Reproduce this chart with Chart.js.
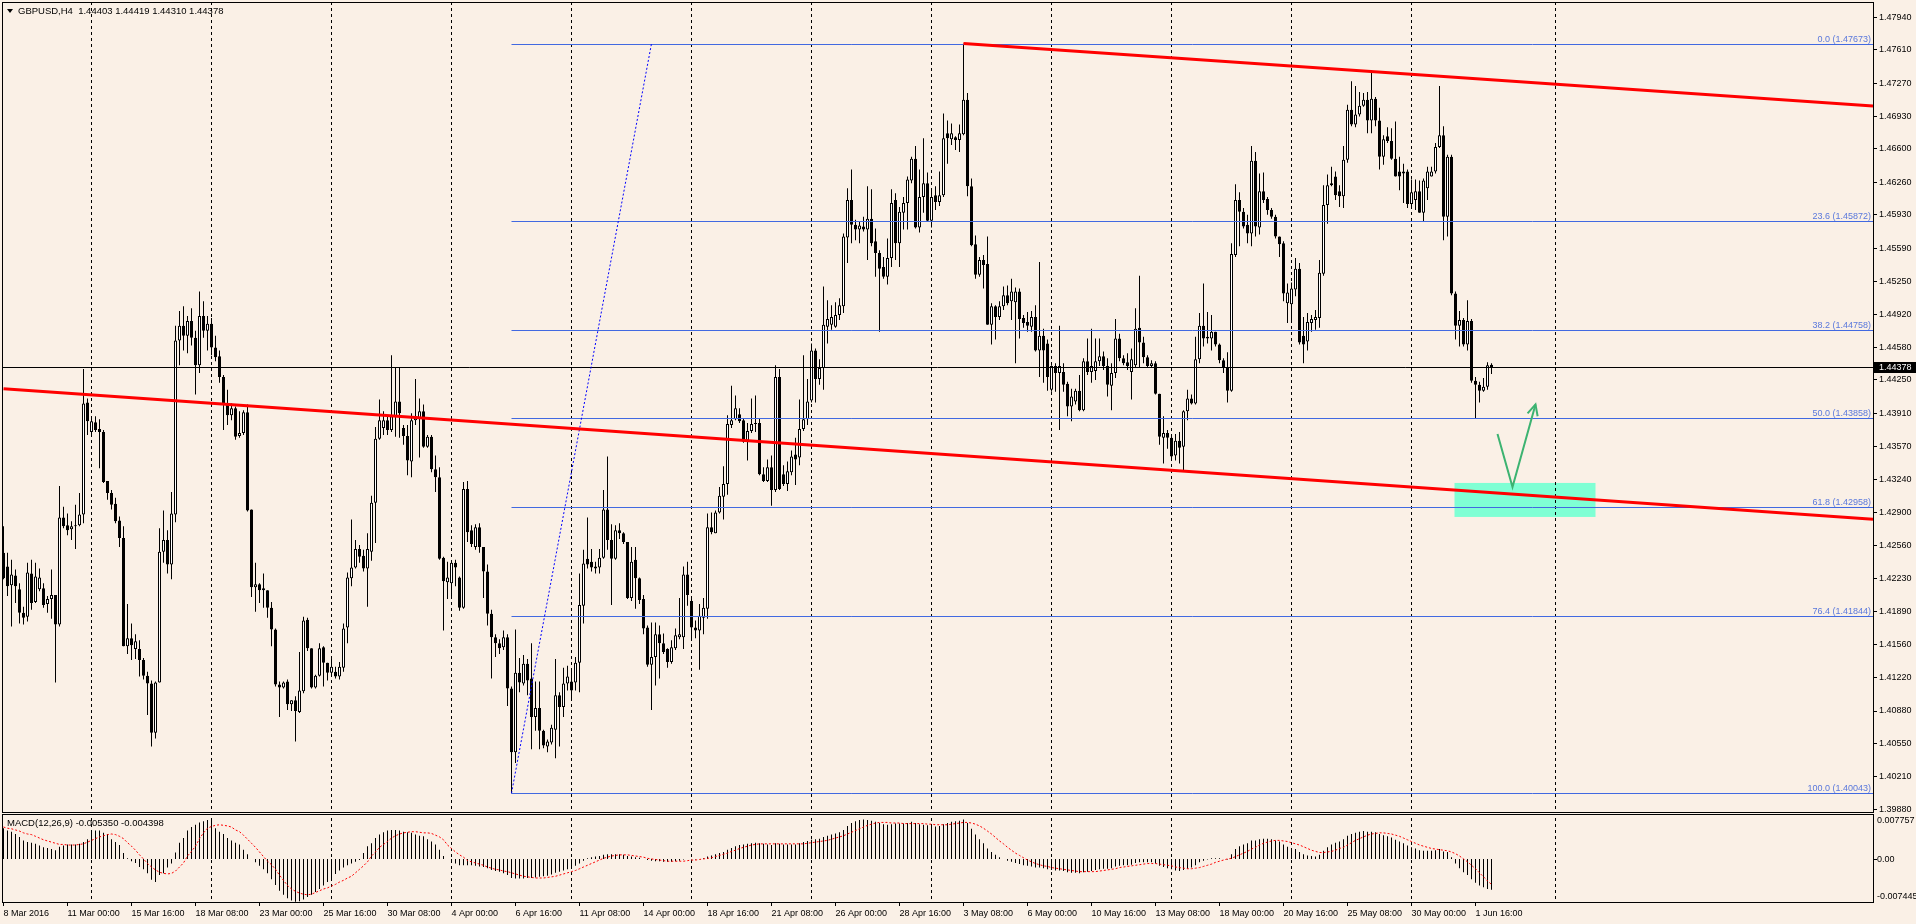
<!DOCTYPE html>
<html>
<head>
<meta charset="utf-8">
<title>GBPUSD,H4</title>
<script src="https://cdn.jsdelivr.net/npm/chart.js@4/dist/chart.umd.min.js"></script>
<style>
  html, body { margin: 0; padding: 0; background: #faf0e6; overflow: hidden; }
  canvas { display: block; }
</style>
</head>
<body>
<canvas id="chart" width="1916" height="924"></canvas>
<script>
// ---- data (bar 0 = 8 Mar 2016 08:00) ----
const open = [
1.4249,1.4235,1.4216,1.4226,1.4212,1.4188,1.4184,1.4228,1.4199,1.4212,
1.4213,1.4197,1.4202,1.4206,1.4176,1.4285,1.4277,1.4273,1.4276,1.4277,
1.4288,1.4402,1.4372,1.4382,1.4375,1.4372,1.4322,1.4310,1.4299,1.4282,
1.4264,1.4154,1.4162,1.4151,1.4151,1.4140,1.4124,1.4116,1.4066,1.4117,
1.4250,1.4262,1.4237,1.4288,1.4465,1.4480,1.4470,1.4485,1.4468,1.4440,
1.4490,1.4475,1.4482,1.4458,1.4449,1.4428,1.4401,1.4389,1.4396,1.4368,
1.4371,1.4392,1.4293,1.4214,1.4217,1.4213,1.4211,1.4193,1.4171,1.4115,
1.4112,1.4118,1.4095,1.4099,1.4087,1.4108,1.4181,1.4152,1.4112,1.4124,
1.4153,1.4137,1.4127,1.4128,1.4123,1.4132,1.4173,1.4223,1.4234,1.4253,
1.4246,1.4233,1.4250,1.4300,1.4365,1.4376,1.4384,1.4374,1.4388,1.4403,
1.4376,1.4368,1.4342,1.4384,1.4386,1.4393,1.4357,1.4367,1.4334,1.4326,
1.4244,1.4219,1.4218,1.4239,1.4224,1.4193,1.4314,1.4272,1.4255,1.4275,
1.4255,1.4230,1.4187,1.4163,1.4157,1.4153,1.4163,1.4111,1.4046,1.4127,
1.4116,1.4136,1.4121,1.4082,1.4091,1.4068,1.4052,1.4056,1.4069,1.4104,
1.4092,1.4116,1.4118,1.4117,1.4137,1.4195,1.4243,1.4240,1.4235,1.4234,
1.4244,1.4293,1.4262,1.4243,1.4272,1.4269,1.4260,1.4203,1.4242,1.4223,
1.4202,1.4173,1.4135,1.4143,1.4166,1.4157,1.4151,1.4138,1.4152,1.4163,
1.4163,1.4227,1.4200,1.4173,1.4170,1.4183,1.4192,1.4275,1.4269,1.4290,
1.4306,1.4319,1.4379,1.4385,1.4390,1.4384,1.4363,1.4373,1.4380,1.4381,
1.4329,1.4322,1.4336,1.4313,1.4428,1.4329,1.4319,1.4331,1.4349,1.4346,
1.4375,1.4385,1.4404,1.4455,1.4426,1.4437,1.4479,1.4481,1.4479,1.4491,
1.4500,1.4570,1.4608,1.4583,1.4578,1.4581,1.4578,1.4589,1.4566,1.4554,
1.4540,1.4530,1.4549,1.4608,1.4564,1.4595,1.4605,1.4628,1.4650,1.4580,
1.4611,1.4625,1.4587,1.4613,1.4606,1.4613,1.4676,1.4670,1.4672,1.4669,
1.4675,1.4710,1.4622,1.4563,1.4532,1.4547,1.4543,1.4481,1.4500,1.4489,
1.4500,1.4511,1.4505,1.4504,1.4515,1.4488,1.4484,1.4479,1.4489,1.4455,
1.4470,1.4462,1.4415,1.4439,1.4432,1.4433,1.4421,1.4398,1.4403,1.4414,
1.4394,1.4444,1.4433,1.4434,1.4444,1.4449,1.4439,1.4419,1.4432,1.4467,
1.4447,1.4443,1.4433,1.4440,1.4478,1.4463,1.4448,1.4439,1.4442,1.4411,
1.4366,1.4371,1.4366,1.4348,1.4363,1.4357,1.4393,1.4406,1.4401,1.4446,
1.4480,1.4469,1.4467,1.4474,1.4461,1.4445,1.4438,1.4414,1.4552,1.4608,
1.4596,1.4583,1.4574,1.4648,1.4580,1.4617,1.4609,1.4598,1.4591,1.4571,
1.4564,1.4503,1.4502,1.4517,1.4538,1.4470,1.4464,1.4483,1.4486,1.4488,
1.4533,1.4603,1.4623,1.4632,1.4617,1.4612,1.4649,1.4700,1.4685,1.4695,
1.4704,1.4710,1.4689,1.4711,1.4689,1.4652,1.4673,1.4668,1.4650,1.4637,
1.4635,1.4637,1.4604,1.4608,1.4617,1.4595,1.4620,1.4632,1.4637,1.4662,
1.4674,1.4591,1.4652,1.4513,1.4480,1.4486,1.4461,1.4485,1.4424,1.4420,
1.4414,1.4418,1.44403
];
const high = [
1.4276,1.4249,1.4242,1.4232,1.4218,1.4194,1.4239,1.4242,1.4239,1.4233,
1.4218,1.4205,1.4232,1.4206,1.4317,1.4296,1.4289,1.4281,1.4298,1.4310,
1.4436,1.4406,1.4388,1.4388,1.4385,1.4374,1.4322,1.4313,1.4305,1.4286,
1.4276,1.4197,1.4177,1.4166,1.4160,1.4142,1.4128,1.4119,1.4118,1.4274,
1.4292,1.4272,1.4311,1.4480,1.4495,1.4500,1.4490,1.4498,1.4475,1.4515,
1.4505,1.4490,1.4488,1.4470,1.4455,1.4430,1.4415,1.4401,1.4398,1.4393,
1.4394,1.4400,1.4293,1.4239,1.4218,1.4228,1.4211,1.4199,1.4172,1.4118,
1.4118,1.4120,1.4099,1.4103,1.4148,1.4184,1.4183,1.4152,1.4125,1.4157,
1.4154,1.4137,1.4142,1.4133,1.4138,1.4177,1.4229,1.4283,1.4262,1.4257,
1.4252,1.4269,1.4307,1.4377,1.4405,1.4393,1.4388,1.4450,1.4438,1.4438,
1.4379,1.4379,1.4391,1.4426,1.4406,1.4400,1.4369,1.4369,1.4348,1.4336,
1.4245,1.4240,1.4240,1.4242,1.4225,1.4321,1.4322,1.4277,1.4278,1.4279,
1.4255,1.4237,1.4191,1.4166,1.4161,1.4170,1.4166,1.4113,1.4171,1.4142,
1.4145,1.4141,1.4157,1.4118,1.4118,1.4069,1.4059,1.4074,1.4141,1.4107,
1.4132,1.4134,1.4131,1.4143,1.4228,1.4252,1.4285,1.4253,1.4240,1.4253,
1.4313,1.4347,1.4278,1.4277,1.4279,1.4270,1.4260,1.4255,1.4255,1.4224,
1.4206,1.4175,1.4178,1.4178,1.4175,1.4167,1.4152,1.4160,1.4172,1.4203,
1.4235,1.4240,1.4203,1.4180,1.4197,1.4203,1.4289,1.4290,1.4292,1.4316,
1.4337,1.4389,1.4419,1.4409,1.4396,1.4386,1.4381,1.4406,1.4409,1.4386,
1.4336,1.4344,1.4348,1.4440,1.4436,1.4338,1.4342,1.4353,1.4366,1.4405,
1.4450,1.4426,1.4462,1.4457,1.4446,1.4520,1.4506,1.4501,1.4504,1.4508,
1.4574,1.4620,1.4639,1.4588,1.4586,1.4591,1.4622,1.4619,1.4579,1.4557,
1.4550,1.4569,1.4619,1.4615,1.4601,1.4611,1.4632,1.4652,1.4663,1.4639,
1.4671,1.4636,1.4620,1.4622,1.4637,1.4696,1.4689,1.4686,1.4673,1.4685,
1.4767,1.4717,1.4630,1.4572,1.4550,1.4552,1.4571,1.4503,1.4501,1.4505,
1.4520,1.4521,1.4528,1.4519,1.4518,1.4491,1.4494,1.4495,1.4501,1.4545,
1.4477,1.4466,1.4440,1.4442,1.4480,1.4442,1.4423,1.4416,1.4416,1.4430,
1.4447,1.4467,1.4477,1.4467,1.4467,1.4454,1.4447,1.4442,1.4487,1.4472,
1.4450,1.4452,1.4457,1.4498,1.4531,1.4469,1.4450,1.4445,1.4444,1.4411,
1.4388,1.4374,1.4367,1.4370,1.4372,1.4394,1.4415,1.4410,1.4469,1.4493,
1.4523,1.4494,1.4491,1.4474,1.4462,1.4447,1.4453,1.4564,1.4624,1.4616,
1.4600,1.4593,1.4663,1.4657,1.4635,1.4636,1.4611,1.4600,1.4593,1.4571,
1.4566,1.4523,1.4524,1.4549,1.4544,1.4489,1.4493,1.4491,1.4496,1.4547,
1.4623,1.4634,1.4642,1.4637,1.4623,1.4663,1.4705,1.4729,1.4724,1.4718,
1.4717,1.4718,1.4740,1.4713,1.4702,1.4674,1.4682,1.4681,1.4688,1.4652,
1.4645,1.4639,1.4629,1.4629,1.4628,1.4630,1.4642,1.4642,1.4666,1.4724,
1.4683,1.4654,1.4654,1.4515,1.4495,1.4488,1.4506,1.4487,1.4428,1.4423,
1.4427,1.4443,1.44419
];
const low = [
1.4222,1.4205,1.4174,1.4198,1.4177,1.4176,1.4179,1.4191,1.4198,1.4210,
1.4193,1.4188,1.4182,1.4117,1.4174,1.4274,1.4267,1.4262,1.4253,1.4276,
1.4279,1.4369,1.4369,1.4372,1.4335,1.4320,1.4303,1.4293,1.4279,1.4255,
1.4154,1.4146,1.4140,1.4141,1.4123,1.4120,1.4084,1.4052,1.4060,1.4117,
1.4239,1.4228,1.4222,1.4280,1.4440,1.4455,1.4452,1.4460,1.4410,1.4432,
1.4468,1.4455,1.4450,1.4444,1.4422,1.4374,1.4379,1.4384,1.4364,1.4366,
1.4369,1.4291,1.4204,1.4189,1.4198,1.4193,1.4183,1.4154,1.4113,1.4082,
1.4111,1.4089,1.4088,1.4057,1.4086,1.4106,1.4149,1.4111,1.4111,1.4123,
1.4113,1.4119,1.4123,1.4121,1.4120,1.4128,1.4157,1.4215,1.4233,1.4239,
1.4230,1.4194,1.4241,1.4259,1.4364,1.4369,1.4369,1.4372,1.4367,1.4366,
1.4359,1.4328,1.4326,1.4379,1.4346,1.4356,1.4356,1.4331,1.4311,1.4242,
1.4170,1.4202,1.4202,1.4215,1.4190,1.4192,1.4260,1.4255,1.4252,1.4249,
1.4203,1.4175,1.4121,1.4143,1.4146,1.4150,1.4093,1.40043,1.4035,1.4107,
1.4114,1.4104,1.4049,1.4068,1.4049,1.4050,1.4046,1.4054,1.4040,1.4052,
1.4082,1.4109,1.4099,1.4109,1.4107,1.4177,1.4233,1.4230,1.4228,1.4228,
1.4243,1.4252,1.4196,1.4242,1.4263,1.4258,1.4202,1.4200,1.4192,1.4197,
1.4166,1.4133,1.4089,1.4114,1.4121,1.4146,1.4132,1.4136,1.4150,1.4161,
1.4151,1.4195,1.4162,1.4162,1.4130,1.4166,1.4182,1.4268,1.4269,1.4289,
1.4283,1.4308,1.4376,1.4384,1.4381,1.4361,1.4343,1.4371,1.4372,1.4328,
1.4321,1.4321,1.4297,1.4311,1.4313,1.4317,1.4312,1.4328,1.4318,1.4338,
1.4373,1.4379,1.4402,1.4402,1.4420,1.4415,1.4462,1.4476,1.4478,1.4486,
1.4493,1.4544,1.4564,1.4567,1.4564,1.4576,1.4547,1.4561,1.4530,1.4474,
1.4528,1.4522,1.4540,1.4547,1.4540,1.4578,1.4578,1.4625,1.4579,1.4575,
1.4595,1.4586,1.4580,1.4598,1.4602,1.4611,1.4645,1.4664,1.4659,1.4657,
1.4674,1.4612,1.4561,1.4528,1.4530,1.4518,1.4481,1.4461,1.4466,1.4486,
1.4496,1.4501,1.4486,1.4442,1.4467,1.4478,1.4474,1.4474,1.4454,1.4428,
1.4422,1.4414,1.4413,1.4413,1.4374,1.4413,1.4388,1.4383,1.4400,1.4393,
1.4393,1.4430,1.4422,1.4425,1.4439,1.4435,1.4408,1.4394,1.4427,1.4444,
1.4440,1.4435,1.4405,1.4437,1.4437,1.4442,1.4437,1.4438,1.4410,1.4359,
1.4340,1.4355,1.4345,1.4343,1.4340,1.4332,1.4384,1.4400,1.4400,1.4442,
1.4459,1.4462,1.4455,1.4459,1.4442,1.4432,1.4402,1.4413,1.4550,1.4561,
1.4579,1.4564,1.4561,1.4571,1.4573,1.4605,1.4593,1.4589,1.4569,1.4550,
1.4505,1.4483,1.4483,1.4510,1.4461,1.4442,1.4455,1.4474,1.4476,1.4478,
1.4531,1.4584,1.4622,1.4608,1.4601,1.4600,1.4646,1.4683,1.4682,1.4693,
1.4703,1.4676,1.4676,1.4683,1.4639,1.4644,1.4666,1.4649,1.4632,1.4618,
1.4605,1.4600,1.4600,1.4598,1.4595,1.4586,1.4608,1.4632,1.4635,1.4661,
1.4567,1.4571,1.4511,1.4466,1.4459,1.4459,1.4455,1.4422,1.43858,1.4402,
1.4413,1.4415,1.44310
];
const close = [
1.4223,1.4215,1.4227,1.4215,1.4188,1.4183,1.4229,1.4198,1.4225,1.4224,
1.4196,1.4202,1.4206,1.4176,1.4285,1.4276,1.4272,1.4276,1.4277,1.4288,
1.4401,1.4383,1.4383,1.4374,1.4372,1.4321,1.4310,1.4298,1.4281,1.4264,
1.4154,1.4162,1.4155,1.4159,1.4140,1.4124,1.4116,1.4066,1.4117,1.4250,
1.4262,1.4237,1.4289,1.4465,1.4480,1.4470,1.4485,1.4468,1.4440,1.4490,
1.4475,1.4482,1.4458,1.4448,1.4428,1.4400,1.4389,1.4396,1.4367,1.4371,
1.4392,1.4292,1.4214,1.4217,1.4211,1.4211,1.4193,1.4171,1.4115,1.4112,
1.4117,1.4095,1.4099,1.4088,1.4109,1.4180,1.4152,1.4112,1.4124,1.4152,
1.4137,1.4127,1.4133,1.4123,1.4133,1.4172,1.4224,1.4234,1.4253,1.4245,
1.4233,1.4253,1.4300,1.4365,1.4384,1.4384,1.4374,1.4388,1.4403,1.4391,
1.4368,1.4343,1.4384,1.4388,1.4393,1.4357,1.4367,1.4334,1.4326,1.4243,
1.4220,1.4224,1.4239,1.4234,1.4193,1.4314,1.4270,1.4258,1.4275,1.4255,
1.4230,1.4187,1.4163,1.4157,1.4152,1.4163,1.4111,1.4046,1.4127,1.4117,
1.4136,1.4119,1.4082,1.4091,1.4068,1.4053,1.4057,1.4071,1.4104,1.4092,
1.4116,1.4123,1.4109,1.4137,1.4196,1.4238,1.4237,1.4234,1.4233,1.4244,
1.4293,1.4262,1.4243,1.4272,1.4269,1.4260,1.4203,1.4240,1.4223,1.4201,
1.4172,1.4135,1.4143,1.4166,1.4157,1.4148,1.4138,1.4153,1.4165,1.4166,
1.4227,1.4206,1.4173,1.4170,1.4185,1.4193,1.4275,1.4270,1.4290,1.4307,
1.4319,1.4380,1.4384,1.4396,1.4383,1.4362,1.4373,1.4380,1.4381,1.4329,
1.4322,1.4336,1.4313,1.4428,1.4314,1.4319,1.4332,1.4347,1.4344,1.4375,
1.4385,1.4403,1.4455,1.4426,1.4437,1.4481,1.4487,1.4489,1.4491,1.4501,
1.4571,1.4608,1.4583,1.4578,1.4582,1.4578,1.4589,1.4564,1.4554,1.4538,
1.4530,1.4549,1.4605,1.4564,1.4596,1.4605,1.4629,1.4650,1.4580,1.4611,
1.4625,1.4587,1.4611,1.4606,1.4613,1.4671,1.4671,1.4676,1.4669,1.4676,
1.4710,1.4622,1.4562,1.4532,1.4547,1.4542,1.4481,1.4500,1.4489,1.4500,
1.4511,1.4503,1.4515,1.4515,1.4487,1.4483,1.4480,1.4489,1.4455,1.4470,
1.4455,1.4428,1.4439,1.4432,1.4439,1.4420,1.4398,1.4408,1.4414,1.4394,
1.4444,1.4433,1.4439,1.4444,1.4449,1.4439,1.4420,1.4432,1.4467,1.4447,
1.4442,1.4439,1.4446,1.4477,1.4463,1.4448,1.4439,1.4442,1.4411,1.4367,
1.4371,1.4366,1.4347,1.4363,1.4356,1.4393,1.4406,1.4401,1.4446,1.4480,
1.4467,1.4467,1.4474,1.4461,1.4445,1.4437,1.4414,1.4553,1.4608,1.4596,
1.4581,1.4574,1.4648,1.4581,1.4617,1.4608,1.4598,1.4591,1.4571,1.4563,
1.4513,1.4514,1.4518,1.4538,1.4463,1.4461,1.4484,1.4487,1.4489,1.4534,
1.4603,1.4623,1.4625,1.4613,1.4612,1.4649,1.4700,1.4685,1.4695,1.4704,
1.4710,1.4689,1.4711,1.4689,1.4652,1.4670,1.4668,1.4650,1.4632,1.4632,
1.4637,1.4604,1.4616,1.4617,1.4595,1.4628,1.4637,1.4637,1.4662,1.4674,
1.4591,1.4652,1.4513,1.4480,1.4486,1.4461,1.4485,1.4424,1.4420,1.4414,
1.4418,1.4440,1.44378
];
// MACD(12,26,9): main histogram and signal line
const macdMain = [
0.0053,0.0049,0.0047,0.0043,0.0038,0.0032,0.0029,0.0028,0.0026,0.0023,
0.0020,0.0019,0.0017,0.0015,0.0021,0.0023,0.0025,0.0025,0.0025,0.0026,
0.0029,0.0034,0.0049,0.0049,0.0049,0.0045,0.0043,0.0034,0.0029,0.0024,
0.0010,0.0001,-0.0004,-0.0007,-0.0014,-0.0018,-0.0025,-0.0036,-0.0040,-0.0028,
-0.0025,-0.0015,-0.0008,0.0011,0.0028,0.0036,0.0049,0.0055,0.0059,0.0063,
0.0065,0.0067,0.0066,0.0053,0.0047,0.0043,0.0036,0.0032,0.0028,0.0025,
0.0016,0.0008,0.0000,-0.0006,-0.0012,-0.0018,-0.0025,-0.0035,-0.0045,-0.0055,
-0.0062,-0.0068,-0.0072,-0.0074,-0.0073,-0.0070,-0.0066,-0.0062,-0.0057,-0.0052,
-0.0046,-0.0040,-0.0033,-0.0026,-0.0020,-0.0015,-0.0011,-0.0008,-0.0005,-0.0002,
0.0010,0.0022,0.0027,0.0036,0.0042,0.0046,0.0049,0.0050,0.0050,0.0049,
0.0047,0.0046,0.0045,0.0042,0.0040,0.0039,0.0034,0.0030,0.0025,0.0016,
0.0005,0.0000,-0.0004,-0.0008,-0.0011,-0.0011,-0.0011,-0.0011,-0.0012,-0.0013,
-0.0014,-0.0016,-0.0019,-0.0021,-0.0022,-0.0025,-0.0028,-0.0033,-0.0034,-0.0034,
-0.0034,-0.0033,-0.0033,-0.0032,-0.0031,-0.0030,-0.0029,-0.0027,-0.0024,-0.0022,
-0.0020,-0.0018,-0.0015,-0.0012,-0.0008,-0.0003,0.0001,0.0003,0.0004,0.0005,
0.0007,0.0008,0.0008,0.0008,0.0008,0.0007,0.0005,0.0004,0.0003,0.0002,
0.0000,-0.0002,-0.0003,-0.0004,-0.0004,-0.0005,-0.0005,-0.0005,-0.0004,-0.0003,
-0.0001,0.0000,-0.0001,-0.0001,0.0000,0.0001,0.0004,0.0006,0.0008,0.0010,
0.0012,0.0016,0.0019,0.0022,0.0024,0.0025,0.0026,0.0027,0.0028,0.0027,
0.0026,0.0025,0.0024,0.0027,0.0026,0.0025,0.0025,0.0025,0.0025,0.0027,
0.0029,0.0031,0.0033,0.0034,0.0035,0.0038,0.0040,0.0042,0.0044,0.0046,
0.0050,0.0057,0.0062,0.0065,0.0067,0.0068,0.0067,0.0066,0.0064,0.0062,
0.0060,0.0059,0.0060,0.0061,0.0061,0.0061,0.0062,0.0064,0.0062,0.0060,
0.0059,0.0058,0.0057,0.0056,0.0057,0.0060,0.0062,0.0064,0.0065,0.0066,
0.0068,0.0062,0.0052,0.0042,0.0034,0.0027,0.0018,0.0012,0.0007,0.0003,
0.0000,-0.0003,-0.0005,-0.0007,-0.0009,-0.0011,-0.0012,-0.0013,-0.0015,-0.0015,
-0.0016,-0.0018,-0.0019,-0.0020,-0.0020,-0.0021,-0.0023,-0.0024,-0.0024,-0.0025,
-0.0023,-0.0022,-0.0021,-0.0019,-0.0018,-0.0017,-0.0017,-0.0016,-0.0013,-0.0012,
-0.0011,-0.0011,-0.0010,-0.0007,-0.0006,-0.0006,-0.0006,-0.0006,-0.0008,-0.0012,
-0.0014,-0.0016,-0.0018,-0.0020,-0.0021,-0.0019,-0.0017,-0.0015,-0.0011,-0.0006,
-0.0003,-0.0001,0.0001,0.0001,0.0001,0.0000,-0.0001,0.0008,0.0017,0.0022,
0.0025,0.0027,0.0032,0.0032,0.0034,0.0035,0.0035,0.0034,0.0032,0.0030,
0.0025,0.0021,0.0018,0.0017,0.0012,0.0008,0.0006,0.0005,0.0004,0.0007,
0.0014,0.0020,0.0025,0.0028,0.0030,0.0034,0.0040,0.0043,0.0045,0.0047,
0.0048,0.0047,0.0047,0.0046,0.0043,0.0041,0.0039,0.0037,0.0033,0.0030,
0.0027,0.0023,0.0020,0.0018,0.0015,0.0014,0.0014,0.0014,0.0015,0.0017,
0.0013,0.0012,0.0003,-0.0008,-0.0016,-0.0023,-0.0028,-0.0035,-0.0041,-0.0046,
-0.0049,-0.0052,-0.005350
];
const macdSignal = [
0.0055,0.0053,0.0052,0.0050,0.0048,0.0045,0.0043,0.0042,0.0039,0.0036,
0.0033,0.0031,0.0029,0.0027,0.0025,0.0025,0.0024,0.0024,0.0024,0.0025,
0.0026,0.0029,0.0032,0.0035,0.0038,0.0040,0.0042,0.0043,0.0042,0.0039,
0.0035,0.0028,0.0022,0.0015,0.0007,0.0000,-0.0008,-0.0014,-0.0019,-0.0023,
-0.0025,-0.0026,-0.0025,-0.0021,-0.0014,-0.0007,0.0005,0.0013,0.0022,0.0035,
0.0045,0.0053,0.0056,0.0058,0.0059,0.0058,0.0057,0.0055,0.0050,0.0047,
0.0041,0.0034,0.0027,0.0020,0.0012,0.0004,-0.0004,-0.0010,-0.0018,-0.0028,
-0.0037,-0.0046,-0.0052,-0.0056,-0.0059,-0.0061,-0.0062,-0.0061,-0.0058,-0.0055,
-0.0052,-0.0050,-0.0047,-0.0044,-0.0040,-0.0037,-0.0033,-0.0030,-0.0024,-0.0018,
-0.0012,-0.0005,0.0005,0.0012,0.0020,0.0025,0.0030,0.0036,0.0040,0.0043,
0.0045,0.0046,0.0047,0.0047,0.0046,0.0045,0.0045,0.0044,0.0041,0.0038,
0.0033,0.0024,0.0018,0.0012,0.0007,0.0003,-0.0003,-0.0005,-0.0007,-0.0009,
-0.0011,-0.0014,-0.0016,-0.0018,-0.0019,-0.0021,-0.0022,-0.0024,-0.0026,-0.0028,
-0.0030,-0.0031,-0.0032,-0.0033,-0.0033,-0.0033,-0.0032,-0.0031,-0.0030,-0.0028,
-0.0026,-0.0024,-0.0022,-0.0020,-0.0017,-0.0014,-0.0011,-0.0008,-0.0005,-0.0002,
0.0001,0.0003,0.0005,0.0006,0.0007,0.0007,0.0007,0.0006,0.0005,0.0004,
0.0003,0.0001,0.0000,-0.0001,-0.0002,-0.0003,-0.0004,-0.0004,-0.0004,-0.0004,
-0.0004,-0.0003,-0.0002,-0.0002,-0.0001,0.0000,0.0001,0.0002,0.0004,0.0006,
0.0008,0.0010,0.0013,0.0015,0.0018,0.0020,0.0022,0.0024,0.0025,0.0026,
0.0026,0.0026,0.0026,0.0026,0.0026,0.0026,0.0026,0.0026,0.0026,0.0026,
0.0026,0.0027,0.0028,0.0029,0.0030,0.0031,0.0032,0.0034,0.0036,0.0038,
0.0040,0.0043,0.0046,0.0049,0.0052,0.0055,0.0058,0.0060,0.0062,0.0063,
0.0063,0.0063,0.0062,0.0062,0.0062,0.0061,0.0061,0.0061,0.0061,0.0061,
0.0061,0.0060,0.0060,0.0059,0.0059,0.0059,0.0059,0.0060,0.0061,0.0062,
0.0063,0.0063,0.0062,0.0060,0.0057,0.0053,0.0048,0.0043,0.0037,0.0031,
0.0026,0.0020,0.0015,0.0010,0.0006,0.0002,-0.0002,-0.0005,-0.0008,-0.0010,
-0.0012,-0.0013,-0.0015,-0.0016,-0.0017,-0.0018,-0.0019,-0.0020,-0.0021,-0.0022,
-0.0022,-0.0022,-0.0022,-0.0022,-0.0021,-0.0020,-0.0019,-0.0018,-0.0017,-0.0015,
-0.0014,-0.0013,-0.0012,-0.0011,-0.0010,-0.0009,-0.0008,-0.0008,-0.0008,-0.0009,
-0.0010,-0.0011,-0.0012,-0.0014,-0.0015,-0.0016,-0.0017,-0.0017,-0.0016,-0.0015,
-0.0013,-0.0011,-0.0009,-0.0006,-0.0004,-0.0002,0.0000,0.0001,0.0004,0.0007,
0.0010,0.0013,0.0017,0.0020,0.0024,0.0027,0.0029,0.0031,0.0032,0.0032,
0.0031,0.0030,0.0028,0.0026,0.0024,0.0021,0.0018,0.0015,0.0013,0.0011,
0.0011,0.0012,0.0013,0.0015,0.0018,0.0020,0.0024,0.0028,0.0032,0.0035,
0.0038,0.0041,0.0043,0.0044,0.0045,0.0045,0.0044,0.0043,0.0041,0.0039,
0.0036,0.0033,0.0030,0.0027,0.0024,0.0022,0.0020,0.0018,0.0017,0.0016,
0.0015,0.0014,0.0012,0.0009,0.0005,0.0000,-0.0005,-0.0011,-0.0017,-0.0024,
-0.0031,-0.0038,-0.004398
];

// time axis labels (one every 16 bars) and weekly grid bars
const xLabels = ['8 Mar 2016','11 Mar 00:00','15 Mar 16:00','18 Mar 08:00','23 Mar 00:00','25 Mar 16:00',
  '30 Mar 08:00','4 Apr 00:00','6 Apr 16:00','11 Apr 08:00','14 Apr 00:00','18 Apr 16:00','21 Apr 08:00',
  '26 Apr 00:00','28 Apr 16:00','3 May 08:00','6 May 00:00','10 May 16:00','13 May 08:00','18 May 00:00',
  '20 May 16:00','25 May 08:00','30 May 00:00','1 Jun 16:00'];
const xLabelBars = xLabels.map((s, k) => k * 16);
const gridBars = [22, 52, 82, 112, 142, 172, 202, 232, 262, 292, 322, 352, 388];
const priceTicks = [1.47940,1.47610,1.47270,1.46930,1.46600,1.46260,1.45930,1.45590,1.45250,1.44920,
  1.44580,1.44250,1.43910,1.43570,1.43240,1.42900,1.42560,1.42230,1.41890,1.41560,1.41220,1.40880,
  1.40550,1.40210,1.39880];
const macdTicks = [0.007757, 0, -0.007445];

// drawn objects: fibo retracement, trend lines, target zone, arrow
const fibLevels = [0.0, 23.6, 38.2, 50.0, 61.8, 76.4, 100.0];
const fibPrices = [1.47673, 1.45872, 1.44758, 1.43858, 1.42958, 1.41844, 1.40043];
const fibBars = [127, 162];               // anchor bars: low and the dotted trend end
const upperTrend = [240, 1.47673, 467.375, 1.47037];
const lowerTrend = [0, 1.4416, 467.375, 1.42831];
const targetZone = [362.75, 398, 1.43201, 1.42855];
const arrowBars = [373.5, 377.25, 383];
const arrowPrices = [1.4370, 1.4316, 1.4400];
const lastPrice = 1.44378;

const BG = '#faf0e6';
const FONT = '9px "Liberation Sans", Arial, sans-serif';
const MAIN_BOTTOM = 812, SUB_TOP = 814;

const bars = open.map((o, i) => i);

const overlay = {
  id: 'overlay',
  beforeDraw(chart) {
    const c = chart.ctx;
    c.save();
    c.fillStyle = BG;
    c.fillRect(0, 0, chart.width, chart.height);
    c.restore();
  },
  beforeDatasetsDraw(chart) {
    const { ctx: c, chartArea: a, scales: { x, y } } = chart;
    c.save();
    // target zone
    const zx0 = x.getPixelForValue(targetZone[0]), zx1 = x.getPixelForValue(targetZone[1]);
    const zy0 = y.getPixelForValue(targetZone[2]), zy1 = y.getPixelForValue(targetZone[3]);
    c.fillStyle = '#7fffd4';
    c.fillRect(zx0, zy0, zx1 - zx0, zy1 - zy0);
    // weekly dashed grid
    c.strokeStyle = '#000';
    c.lineWidth = 1;
    c.setLineDash([3, 3]);
    gridBars.forEach(b => {
      const px = Math.floor(x.getPixelForValue(b)) + 0.5;
      c.beginPath();
      c.moveTo(px, a.top);
      c.lineTo(px, a.bottom);
      c.stroke();
    });
    c.restore();
  },
  afterDatasetsDraw(chart) {
    const { ctx: c, chartArea: a, scales: { x, y } } = chart;
    const X = v => x.getPixelForValue(v), Y = v => y.getPixelForValue(v);
    c.save();
    c.beginPath();
    c.rect(a.left, a.top, a.right - a.left, MAIN_BOTTOM - a.top);
    c.clip();

    // fibonacci levels
    c.font = FONT;
    c.textAlign = 'right';
    c.textBaseline = 'alphabetic';
    fibPrices.forEach((p, k) => {
      const py = Math.round(Y(p)) + 0.5;
      c.strokeStyle = '#4169e1';
      c.lineWidth = 1;
      c.beginPath();
      c.moveTo(X(fibBars[0]), py);
      c.lineTo(a.right, py);
      c.stroke();
      c.fillStyle = '#5a78dc';
      c.fillText(fibLevels[k].toFixed(1) + ' (' + p.toFixed(5) + ')', a.right - 2, py - 3);
    });

    // current bid line
    const by = Math.round(Y(lastPrice)) + 0.5;
    c.strokeStyle = '#000';
    c.beginPath();
    c.moveTo(a.left, by);
    c.lineTo(a.right, by);
    c.stroke();

    // fibo trend (dotted)
    c.strokeStyle = '#0000ff';
    c.setLineDash([2, 2]);
    c.beginPath();
    c.moveTo(X(fibBars[0]), Y(fibPrices[6]));
    c.lineTo(X(fibBars[1]), Y(fibPrices[0]));
    c.stroke();
    c.setLineDash([]);

    // channel lines
    c.strokeStyle = '#ff0000';
    c.lineWidth = 3;
    [upperTrend, lowerTrend].forEach(t => {
      c.beginPath();
      c.moveTo(X(t[0]), Y(t[1]));
      c.lineTo(X(t[2]), Y(t[3]));
      c.stroke();
    });

    // projected path arrow
    c.strokeStyle = '#3cb371';
    c.lineWidth = 2;
    c.beginPath();
    arrowBars.forEach((b, k) => {
      const px = X(b), py = Y(arrowPrices[k]);
      if (k === 0) c.moveTo(px, py); else c.lineTo(px, py);
    });
    c.stroke();
    const n = arrowBars.length;
    const tx = X(arrowBars[n - 1]), ty = Y(arrowPrices[n - 1]);
    const ang = Math.atan2(ty - Y(arrowPrices[n - 2]), tx - X(arrowBars[n - 2]));
    c.beginPath();
    c.moveTo(tx + 12 * Math.cos(ang + Math.PI - 0.45), ty + 12 * Math.sin(ang + Math.PI - 0.45));
    c.lineTo(tx, ty);
    c.lineTo(tx + 12 * Math.cos(ang + Math.PI + 0.45), ty + 12 * Math.sin(ang + Math.PI + 0.45));
    c.stroke();
    c.restore();
  },
  afterDraw(chart) {
    const { ctx: c, chartArea: a, scales: { y, m } } = chart;
    c.save();
    // gap between the two panes
    c.fillStyle = BG;
    c.fillRect(a.left, MAIN_BOTTOM, a.right - a.left + 1, SUB_TOP - MAIN_BOTTOM);
    // pane frames
    c.strokeStyle = '#000';
    c.lineWidth = 1;
    c.strokeRect(a.left + 0.5, a.top + 0.5, a.right - a.left, MAIN_BOTTOM - a.top);
    c.strokeRect(a.left + 0.5, SUB_TOP + 0.5, a.right - a.left, a.bottom - SUB_TOP);

    // bid price box on the axis
    const by = Math.round(y.getPixelForValue(lastPrice));
    c.fillStyle = '#000';
    c.fillRect(a.right + 1, by - 5, chart.width - a.right - 1, 11);
    c.font = FONT;
    c.fillStyle = '#fff';
    c.textAlign = 'left';
    c.textBaseline = 'middle';
    c.fillText(lastPrice.toFixed(5), a.right + 6, by + 0.5);

    // MACD pane scale labels
    c.fillStyle = '#000';
    c.textBaseline = 'top';
    c.fillText(macdTicks[0].toFixed(6), a.right + 4, m.getPixelForValue(macdTicks[0]) + 2);
    c.textBaseline = 'middle';
    c.fillText('0.00', a.right + 4, m.getPixelForValue(macdTicks[1]) + 1);
    c.fillRect(a.right + 1, Math.round(m.getPixelForValue(macdTicks[1])), 3, 1);
    c.textBaseline = 'bottom';
    c.fillText(macdTicks[2].toFixed(6), a.right + 4, m.getPixelForValue(macdTicks[2]) - 1);

    // chart captions
    c.textBaseline = 'middle';
    c.fillStyle = '#000';
    c.beginPath();
    c.moveTo(7, 9); c.lineTo(13, 9); c.lineTo(10, 13); c.closePath();
    c.fill();
    c.font = '9.5px "Liberation Sans", Arial, sans-serif';
    c.fillText('GBPUSD,H4  ' + open[open.length - 1].toFixed(5) + ' ' + high[high.length - 1].toFixed(5) + ' ' +
      low[low.length - 1].toFixed(5) + ' ' + close[close.length - 1].toFixed(5), 18, 11);
    c.fillText('MACD(12,26,9) ' + macdMain[macdMain.length - 1].toFixed(6) + ' ' +
      macdSignal[macdSignal.length - 1].toFixed(6), 7, 823);
    c.restore();
  }
};

const ctx = document.getElementById('chart').getContext('2d');
new Chart(ctx, {
  type: 'bar',
  data: {
    datasets: [
      {
        label: 'body',
        data: bars.map(i => ({ x: i, y: [Math.min(open[i], close[i]), Math.max(open[i], close[i])] })),
        yAxisID: 'y',
        backgroundColor: c => close[c.dataIndex] >= open[c.dataIndex] ? '#ffffff' : '#000000',
        borderColor: '#000000',
        borderWidth: 1,
        borderSkipped: false,
        barThickness: 3,
        minBarLength: 1,
        inflateAmount: 0,
        grouped: false,
        order: 1
      },
      {
        label: 'wick',
        data: bars.map(i => ({ x: i, y: [low[i], high[i]] })),
        yAxisID: 'y',
        backgroundColor: '#000000',
        borderWidth: 0,
        barThickness: 1,
        inflateAmount: 0,
        grouped: false,
        order: 2
      },
      {
        label: 'MACD',
        data: bars.map(i => ({ x: i, y: macdMain[i] })),
        yAxisID: 'm',
        backgroundColor: '#000000',
        borderWidth: 0,
        barThickness: 1,
        inflateAmount: 0,
        grouped: false,
        order: 3
      },
      {
        type: 'line',
        label: 'Signal',
        data: bars.map(i => ({ x: i, y: macdSignal[i] })),
        yAxisID: 'm',
        borderColor: '#ff0000',
        borderWidth: 1,
        borderDash: [2, 2],
        pointRadius: 0,
        tension: 0,
        order: 0
      }
    ]
  },
  options: {
    responsive: false,
    animation: false,
    devicePixelRatio: 1,
    layout: { padding: { left: 2, top: 2, right: 0, bottom: 0 } },
    plugins: { legend: { display: false }, tooltip: { enabled: false } },
    scales: {
      x: {
        type: 'linear',
        min: -0.375,
        max: 467.375,
        offset: false,
        position: 'bottom',
        afterBuildTicks: s => { s.ticks = xLabelBars.map(v => ({ value: v })); },
        afterFit: s => { s.height = 22; s.paddingLeft = 0; s.paddingRight = 0; },
        grid: { display: true, drawOnChartArea: false, drawTicks: true, tickLength: 4, color: '#000', offset: false },
        border: { display: false },
        ticks: {
          autoSkip: false, maxRotation: 0, minRotation: 0, align: 'start', padding: 2, color: '#000',
          font: { family: '"Liberation Sans", Arial, sans-serif', size: 9 },
          callback: (v, k) => xLabels[k]
        }
      },
      y: {
        type: 'linear',
        position: 'right',
        min: 1.389363,
        max: 1.480957,
        afterBuildTicks: s => { s.ticks = priceTicks.map(v => ({ value: v })); },
        afterFit: s => { s.width = 43; s.paddingTop = 0; s.paddingBottom = 0; },
        grid: { display: true, drawOnChartArea: false, drawTicks: true, tickLength: 4, color: '#000' },
        border: { display: false },
        ticks: {
          padding: 2, color: '#000',
          font: { family: '"Liberation Sans", Arial, sans-serif', size: 9 },
          callback: v => v.toFixed(5)
        }
      },
      m: {
        type: 'linear',
        position: 'right',
        display: false,
        min: -0.007445,
        max: 0.148023
      }
    }
  },
  plugins: [overlay]
});
</script>
</body>
</html>
